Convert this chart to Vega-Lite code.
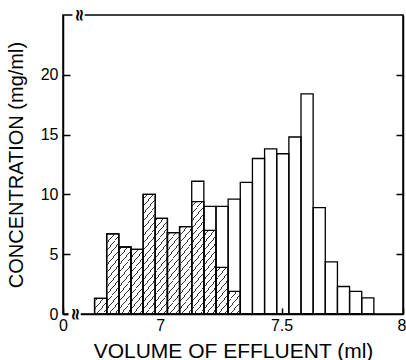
{
  "$schema": "https://vega.github.io/schema/vega-lite/v6.json",
  "width": 340,
  "height": 299,
  "autosize": {"type": "none"},
  "padding": {"left": 63, "top": 15, "right": 3, "bottom": 46},
  "background": "white",
  "config": {
    "font": "Liberation Sans",
    "view": {"stroke": "black", "strokeWidth": 1.5},
    "axis": {"grid": false, "domainColor": "black", "domainWidth": 1.5, "tickColor": "black", "tickWidth": 1.5, "labelColor": "black", "titleColor": "black", "labelFont": "Liberation Sans", "titleFont": "Liberation Sans", "labelFontSize": 16, "titleFontSize": 20, "titleFontWeight": "normal", "labelFlush": false, "labelOverlap": false}
  },
  "datasets": {
    "bars": [
      {"start": 6.73, "end": 6.78, "total": 1.3, "hatched": 1.3},
      {"start": 6.78, "end": 6.83, "total": 6.7, "hatched": 6.7},
      {"start": 6.83, "end": 6.88, "total": 5.6, "hatched": 5.6},
      {"start": 6.88, "end": 6.93, "total": 5.4, "hatched": 5.4},
      {"start": 6.93, "end": 6.98, "total": 10.0, "hatched": 10.0},
      {"start": 6.98, "end": 7.03, "total": 8.0, "hatched": 8.0},
      {"start": 7.03, "end": 7.08, "total": 6.8, "hatched": 6.8},
      {"start": 7.08, "end": 7.13, "total": 7.3, "hatched": 7.3},
      {"start": 7.13, "end": 7.18, "total": 11.1, "hatched": 9.4},
      {"start": 7.18, "end": 7.23, "total": 9.0, "hatched": 7.0},
      {"start": 7.23, "end": 7.28, "total": 9.0, "hatched": 3.9},
      {"start": 7.28, "end": 7.33, "total": 9.6, "hatched": 1.9},
      {"start": 7.33, "end": 7.38, "total": 11.0, "hatched": 0},
      {"start": 7.38, "end": 7.43, "total": 13.0, "hatched": 0},
      {"start": 7.43, "end": 7.48, "total": 13.8, "hatched": 0},
      {"start": 7.48, "end": 7.53, "total": 13.4, "hatched": 0},
      {"start": 7.53, "end": 7.58, "total": 14.8, "hatched": 0},
      {"start": 7.58, "end": 7.63, "total": 18.4, "hatched": 0},
      {"start": 7.63, "end": 7.68, "total": 8.9, "hatched": 0},
      {"start": 7.68, "end": 7.73, "total": 4.35, "hatched": 0},
      {"start": 7.73, "end": 7.78, "total": 2.3, "hatched": 0},
      {"start": 7.78, "end": 7.83, "total": 1.9, "hatched": 0},
      {"start": 7.83, "end": 7.88, "total": 1.35, "hatched": 0}
    ]
  },
  "data": {"name": "bars"},
  "resolve": {"axis": {"x": "independent", "y": "independent"}},
  "layer": [
    {
      "data": {"values": [{}]},
      "mark": {"type": "rect", "strokeWidth": 0, "fill": {"gradient": "linear", "x1": 0, "y1": 0, "x2": 1.147, "y2": 0.785, "stops": [
        {"offset":0.01,"color":"white"},{"offset":0.01,"color":"#333"},{"offset":0.014,"color":"#333"},{"offset":0.014,"color":"white"},
        {"offset":0.035,"color":"white"},{"offset":0.035,"color":"#333"},{"offset":0.039,"color":"#333"},{"offset":0.039,"color":"white"},
        {"offset":0.06,"color":"white"},{"offset":0.06,"color":"#333"},{"offset":0.064,"color":"#333"},{"offset":0.064,"color":"white"},
        {"offset":0.085,"color":"white"},{"offset":0.085,"color":"#333"},{"offset":0.089,"color":"#333"},{"offset":0.089,"color":"white"},
        {"offset":0.11,"color":"white"},{"offset":0.11,"color":"#333"},{"offset":0.114,"color":"#333"},{"offset":0.114,"color":"white"},
        {"offset":0.135,"color":"white"},{"offset":0.135,"color":"#333"},{"offset":0.139,"color":"#333"},{"offset":0.139,"color":"white"},
        {"offset":0.16,"color":"white"},{"offset":0.16,"color":"#333"},{"offset":0.164,"color":"#333"},{"offset":0.164,"color":"white"},
        {"offset":0.185,"color":"white"},{"offset":0.185,"color":"#333"},{"offset":0.189,"color":"#333"},{"offset":0.189,"color":"white"},
        {"offset":0.21,"color":"white"},{"offset":0.21,"color":"#333"},{"offset":0.214,"color":"#333"},{"offset":0.214,"color":"white"},
        {"offset":0.235,"color":"white"},{"offset":0.235,"color":"#333"},{"offset":0.239,"color":"#333"},{"offset":0.239,"color":"white"},
        {"offset":0.26,"color":"white"},{"offset":0.26,"color":"#333"},{"offset":0.264,"color":"#333"},{"offset":0.264,"color":"white"},
        {"offset":0.285,"color":"white"},{"offset":0.285,"color":"#333"},{"offset":0.289,"color":"#333"},{"offset":0.289,"color":"white"},
        {"offset":0.31,"color":"white"},{"offset":0.31,"color":"#333"},{"offset":0.314,"color":"#333"},{"offset":0.314,"color":"white"},
        {"offset":0.335,"color":"white"},{"offset":0.335,"color":"#333"},{"offset":0.339,"color":"#333"},{"offset":0.339,"color":"white"},
        {"offset":0.36,"color":"white"},{"offset":0.36,"color":"#333"},{"offset":0.364,"color":"#333"},{"offset":0.364,"color":"white"},
        {"offset":0.385,"color":"white"},{"offset":0.385,"color":"#333"},{"offset":0.389,"color":"#333"},{"offset":0.389,"color":"white"},
        {"offset":0.41,"color":"white"},{"offset":0.41,"color":"#333"},{"offset":0.414,"color":"#333"},{"offset":0.414,"color":"white"},
        {"offset":0.435,"color":"white"},{"offset":0.435,"color":"#333"},{"offset":0.439,"color":"#333"},{"offset":0.439,"color":"white"},
        {"offset":0.46,"color":"white"},{"offset":0.46,"color":"#333"},{"offset":0.464,"color":"#333"},{"offset":0.464,"color":"white"},
        {"offset":0.485,"color":"white"},{"offset":0.485,"color":"#333"},{"offset":0.489,"color":"#333"},{"offset":0.489,"color":"white"},
        {"offset":0.51,"color":"white"},{"offset":0.51,"color":"#333"},{"offset":0.514,"color":"#333"},{"offset":0.514,"color":"white"},
        {"offset":0.535,"color":"white"},{"offset":0.535,"color":"#333"},{"offset":0.539,"color":"#333"},{"offset":0.539,"color":"white"},
        {"offset":0.56,"color":"white"},{"offset":0.56,"color":"#333"},{"offset":0.564,"color":"#333"},{"offset":0.564,"color":"white"},
        {"offset":0.585,"color":"white"},{"offset":0.585,"color":"#333"},{"offset":0.589,"color":"#333"},{"offset":0.589,"color":"white"},
        {"offset":0.61,"color":"white"},{"offset":0.61,"color":"#333"},{"offset":0.614,"color":"#333"},{"offset":0.614,"color":"white"},
        {"offset":0.635,"color":"white"},{"offset":0.635,"color":"#333"},{"offset":0.639,"color":"#333"},{"offset":0.639,"color":"white"},
        {"offset":0.66,"color":"white"},{"offset":0.66,"color":"#333"},{"offset":0.664,"color":"#333"},{"offset":0.664,"color":"white"},
        {"offset":0.685,"color":"white"},{"offset":0.685,"color":"#333"},{"offset":0.689,"color":"#333"},{"offset":0.689,"color":"white"},
        {"offset":0.71,"color":"white"},{"offset":0.71,"color":"#333"},{"offset":0.714,"color":"#333"},{"offset":0.714,"color":"white"},
        {"offset":0.735,"color":"white"},{"offset":0.735,"color":"#333"},{"offset":0.739,"color":"#333"},{"offset":0.739,"color":"white"},
        {"offset":0.76,"color":"white"},{"offset":0.76,"color":"#333"},{"offset":0.764,"color":"#333"},{"offset":0.764,"color":"white"},
        {"offset":0.785,"color":"white"},{"offset":0.785,"color":"#333"},{"offset":0.789,"color":"#333"},{"offset":0.789,"color":"white"},
        {"offset":0.81,"color":"white"},{"offset":0.81,"color":"#333"},{"offset":0.814,"color":"#333"},{"offset":0.814,"color":"white"},
        {"offset":0.835,"color":"white"},{"offset":0.835,"color":"#333"},{"offset":0.839,"color":"#333"},{"offset":0.839,"color":"white"},
        {"offset":0.86,"color":"white"},{"offset":0.86,"color":"#333"},{"offset":0.864,"color":"#333"},{"offset":0.864,"color":"white"},
        {"offset":0.885,"color":"white"},{"offset":0.885,"color":"#333"},{"offset":0.889,"color":"#333"},{"offset":0.889,"color":"white"},
        {"offset":0.91,"color":"white"},{"offset":0.91,"color":"#333"},{"offset":0.914,"color":"#333"},{"offset":0.914,"color":"white"},
        {"offset":0.935,"color":"white"},{"offset":0.935,"color":"#333"},{"offset":0.939,"color":"#333"},{"offset":0.939,"color":"white"},
        {"offset":0.96,"color":"white"},{"offset":0.96,"color":"#333"},{"offset":0.964,"color":"#333"},{"offset":0.964,"color":"white"},
        {"offset":0.985,"color":"white"},{"offset":0.985,"color":"#333"},{"offset":0.989,"color":"#333"},{"offset":0.989,"color":"white"}
      ]}},
      "encoding": {
        "x": {"datum": 6.733, "type": "quantitative", "scale": {"domain": [6.6, 8], "nice": false, "zero": false},
          "axis": {"values": [6.6, 7, 7.5, 8], "labelExpr": "datum.value < 6.7 ? '0' : datum.value == 7.5 ? '7.5' : datum.value == 7 ? '7' : '8'", "tickSize": -6, "labelPadding": 9,
            "labelAlign": {"condition": {"test": "datum.value == 8", "value": "right"}, "value": "center"},
            "labelOffset": {"condition": {"test": "datum.value == 8", "value": 3}, "value": 0},
            "title": "VOLUME OF EFFLUENT (ml)", "titleFontSize": 21, "titleBaseline": "alphabetic", "titleY": 43}},
        "x2": {"datum": 7.327},
        "y": {"datum": 0, "type": "quantitative", "scale": {"domain": [0, 25], "nice": false, "zero": true},
          "axis": {"values": [0, 5, 10, 15, 20], "tickSize": -7, "labelPadding": 12, "title": "CONCENTRATION (mg/ml)", "titleBaseline": "alphabetic", "titleX": -41}},
        "y2": {"datum": 9.97}
      }
    },
    {
      "transform": [{"filter": "datum.hatched > 0"}],
      "mark": {"type": "rect", "fill": "white", "stroke": "white", "strokeWidth": 1},
      "encoding": {
        "x": {"field": "start", "type": "quantitative", "scale": {"domain": [6.6, 8], "nice": false, "zero": false}, "axis": null},
        "x2": {"field": "end"},
        "y": {"field": "hatched", "type": "quantitative", "axis": null},
        "y2": {"datum": 10.3}
      }
    },
    {
      "mark": {"type": "rect", "filled": false, "stroke": "black", "strokeWidth": 1.3},
      "encoding": {
        "x": {"field": "start", "type": "quantitative", "scale": {"domain": [6.6, 8], "nice": false, "zero": false}, "axis": null},
        "x2": {"field": "end"},
        "y": {"field": "total", "type": "quantitative",
          "axis": {"orient": "right", "values": [5, 10, 15, 20], "tickSize": -7, "labels": false, "title": null}},
        "y2": {"datum": 0}
      }
    },
    {
      "transform": [{"filter": "datum.hatched > 0"}],
      "mark": {"type": "rect", "filled": false, "stroke": "black", "strokeWidth": 1.3},
      "encoding": {
        "x": {"field": "start", "type": "quantitative", "scale": {"domain": [6.6, 8], "nice": false, "zero": false}, "axis": null},
        "x2": {"field": "end"},
        "y": {"field": "hatched", "type": "quantitative", "axis": null},
        "y2": {"datum": 0}
      }
    },
    {
      "data": {"values": [{}]},
      "mark": {"type": "point", "shape": "square", "filled": true, "fill": "white", "size": 150, "strokeWidth": 0, "opacity": 1},
      "encoding": {
        "x": {"datum": 6.648, "type": "quantitative", "axis": null},
        "y": {"datum": 0, "type": "quantitative", "axis": null}
      }
    },
    {
      "data": {"values": [{}]},
      "mark": {"type": "point", "shape": "square", "filled": true, "fill": "white", "size": 150, "strokeWidth": 0, "opacity": 1},
      "encoding": {
        "x": {"datum": 6.664, "type": "quantitative", "axis": null},
        "y": {"datum": 25, "type": "quantitative", "axis": null}
      }
    },
    {
      "data": {"values": [{}]},
      "mark": {"type": "text", "text": "≈", "angle": 90, "fontSize": 17, "fontWeight": "bold", "font": "DejaVu Sans", "align": "center", "baseline": "middle", "color": "black"},
      "encoding": {
        "x": {"datum": 6.648, "type": "quantitative", "axis": null},
        "y": {"datum": 0, "type": "quantitative", "axis": null}
      }
    },
    {
      "data": {"values": [{}]},
      "mark": {"type": "text", "text": "≈", "angle": 90, "fontSize": 17, "fontWeight": "bold", "font": "DejaVu Sans", "align": "center", "baseline": "middle", "color": "black"},
      "encoding": {
        "x": {"datum": 6.664, "type": "quantitative", "axis": null},
        "y": {"datum": 25, "type": "quantitative", "axis": null}
      }
    }
  ]
}
